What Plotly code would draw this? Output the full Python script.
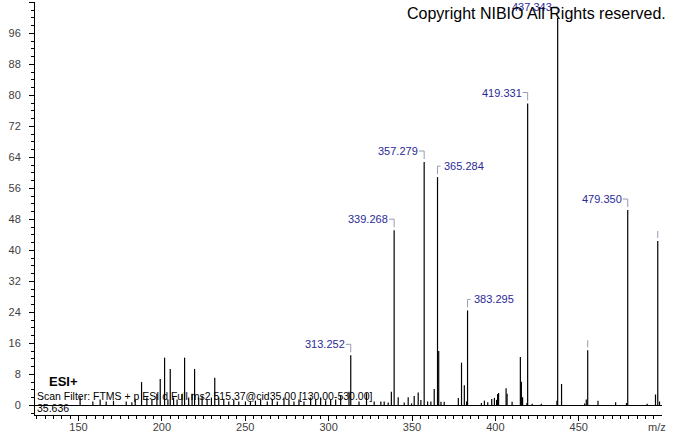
import plotly.graph_objects as go

# ---------------- data ----------------
# small / unlabeled peaks (m/z, relative intensity %)
peak_mz = [150.95, 158.6, 162.97, 166.6, 170.97, 178.6, 182.0, 184.0, 187.8, 191.0,
           194.0, 197.0, 199.0, 201.6, 203.6, 205.0, 207.0, 209.1, 212.1, 213.6,
           216.05, 218.1, 219.6, 222.06, 224.1, 227.1, 229.7, 231.7, 234.1, 237.1,
           240.1, 243.1, 246.1, 250.1, 253.1, 256.1, 259.2, 263.2, 266.2, 269.2,
           273.2, 276.2, 279.2, 282.2, 285.2, 289.2, 292.2, 295.2, 298.2, 301.2,
           304.2, 307.2, 312.2, 318.2, 322.7, 327.3, 331.3, 333.3, 335.7, 337.6,
           341.7, 345.3, 347.7, 349.7, 351.3, 353.7, 355.3, 359.35, 361.3, 363.3,
           366.0, 367.35, 369.3, 377.75, 379.67, 381.36, 382.7, 391.6, 393.4, 395.4,
           397.8, 399.4, 400.7, 401.3, 401.9, 406.4, 407.0, 410.0, 414.96, 415.56,
           416.3, 418.9, 422.05, 427.5, 436.9, 439.66, 453.5, 454.5, 461.5, 472.1,
           478.6, 491.0, 496.0, 498.4]
peak_int = [2.1, 1.0, 1.5, 1.0, 1.2, 1.0, 0.8, 1.5, 6.0, 2.0,
            1.5, 3.0, 6.8, 12.3, 1.5, 9.4, 2.0, 1.5, 3.0, 12.3,
            2.0, 3.0, 9.4, 2.0, 2.5, 1.5, 2.0, 7.1, 2.0, 1.5,
            1.0, 1.5, 1.0, 1.0, 1.0, 1.2, 1.5, 1.0, 1.5, 1.0,
            2.0, 1.5, 1.0, 1.5, 1.0, 2.0, 1.5, 2.0, 1.3, 1.5,
            1.5, 2.5, 3.5, 1.0, 3.1, 1.0, 1.0, 1.0, 0.7, 3.5,
            2.1, 0.7, 2.1, 0.5, 2.4, 3.3, 1.4, 1.0, 1.0, 4.2,
            14.0, 0.9, 0.9, 1.9, 11.0, 5.2, 1.0, 0.6, 1.2, 0.8,
            1.6, 1.9, 1.4, 2.9, 3.2, 4.4, 3.0, 0.9, 12.5, 6.1,
            2.1, 0.6, 0.4, 0.4, 1.2, 5.5, 0.5, 1.5, 1.2, 0.8,
            0.6, 0.4, 2.8, 1.0]

# labelled peaks
label_mz = [313.252, 339.268, 357.279, 365.284, 383.295, 419.331, 437.343, 479.350]
label_int = [12.9, 45.2, 62.8, 58.9, 24.5, 77.9, 100.0, 50.4]
label_side = ["left", "left", "left", "right", "right", "left", "left", "left"]

# flagged peaks whose labels are hidden
flag_mz = [455.35, 497.36]
flag_int = [14.2, 42.4]

x_range = [123.9, 499.9]
y_range = [-2.5, 104.1]

# ---------------- figure ----------------
all_mz = peak_mz + label_mz + flag_mz
all_int = peak_int + label_int + flag_int
xs, ys = [], []
for m, h in zip(all_mz, all_int):
    xs += [m, m, None]
    ys += [0, h, None]

fig = go.Figure()
fig.add_trace(go.Scatter(x=xs, y=ys, mode="lines",
                         line=dict(color="black", width=1.2),
                         hoverinfo="skip", showlegend=False))

FONT = "Arial, Liberation Sans, sans-serif"
LABEL_COLOR = "#2a2a98"
BRACKET_COLOR = "#9a9ab4"

annotations = []
shapes = []
for m, h, side in zip(label_mz, label_int, label_side):
    if side == "left":
        annotations.append(dict(x=m, y=h, xref="x", yref="y", text=f"{m:.3f}",
                                showarrow=False, xanchor="right", yanchor="middle",
                                xshift=-4, yshift=11,
                                font=dict(family=FONT, size=11, color=LABEL_COLOR)))
        path = "M -5,11 L 0,11 L 0,3"
    else:
        annotations.append(dict(x=m, y=h, xref="x", yref="y", text=f"{m:.3f}",
                                showarrow=False, xanchor="left", yanchor="middle",
                                xshift=4, yshift=11,
                                font=dict(family=FONT, size=11, color=LABEL_COLOR)))
        path = "M 3,11 L 0,11 L 0,3"
    shapes.append(dict(type="path", xref="x", yref="y", xsizemode="pixel",
                       ysizemode="pixel", xanchor=m, yanchor=h, path=path,
                       line=dict(color=BRACKET_COLOR, width=1)))

for m, h in zip(flag_mz, flag_int):
    shapes.append(dict(type="path", xref="x", yref="y", xsizemode="pixel",
                       ysizemode="pixel", xanchor=m, yanchor=h, path="M 0,10 L 0,3",
                       line=dict(color=BRACKET_COLOR, width=1)))

annotations += [
    dict(xref="paper", yref="paper", x=1.0096, y=0.971, text="Copyright NIBIO All Rights reserved.",
         showarrow=False, xanchor="right", yanchor="middle",
         font=dict(family=FONT, size=16, color="black")),
    dict(xref="paper", yref="paper", x=0.019, y=0.082, text="<b>ESI+</b>",
         showarrow=False, xanchor="left", yanchor="middle",
         font=dict(family=FONT, size=13, color="black")),
    dict(xref="paper", yref="paper", x=0.0, y=0.046,
         text="Scan Filter: FTMS + p ESI d Full ms2 515.37@cid35.00 [130.00-530.00]",
         showarrow=False, xanchor="left", yanchor="middle",
         font=dict(family=FONT, size=10.5, color="black")),
    dict(xref="paper", yref="paper", x=0.0, y=0.017, text="35.636",
         showarrow=False, xanchor="left", yanchor="middle",
         font=dict(family=FONT, size=10.5, color="black")),
    dict(xref="paper", yref="paper", x=1.0096, y=-0.028, text="m/z",
         showarrow=False, xanchor="right", yanchor="middle",
         font=dict(family=FONT, size=11, color="#404040")),
]

fig.update_layout(
    width=674, height=434,
    margin=dict(l=35, r=12, t=2, b=19, autoexpand=False),
    paper_bgcolor="white", plot_bgcolor="white",
    showlegend=False,
    annotations=annotations,
    shapes=shapes,
    xaxis=dict(range=x_range, tick0=0, dtick=50, ticks="outside", ticklen=5,
               tickcolor="black", showline=True, linecolor="black", linewidth=1,
               showgrid=False, zeroline=False, automargin=False,
               ticklabelstandoff=-3,
               minor=dict(dtick=5, ticks="outside", ticklen=3, tickcolor="black", showgrid=False),
               tickfont=dict(family=FONT, size=11, color="#404040")),
    yaxis=dict(range=y_range, tick0=0, dtick=8, ticks="outside", ticklen=5,
               tickcolor="black", showline=True, linecolor="black", linewidth=1,
               showgrid=False, zeroline=True, zerolinecolor="black", zerolinewidth=1,
               ticklabelstandoff=6, automargin=False,
               minor=dict(dtick=2, ticks="outside", ticklen=3, tickcolor="black", showgrid=False),
               tickfont=dict(family=FONT, size=11, color="#404040")),
)

fig.write_html("out.html", config={"displayModeBar": False},
               post_script="document.body.style.margin='0px';document.body.style.overflow='hidden';")
